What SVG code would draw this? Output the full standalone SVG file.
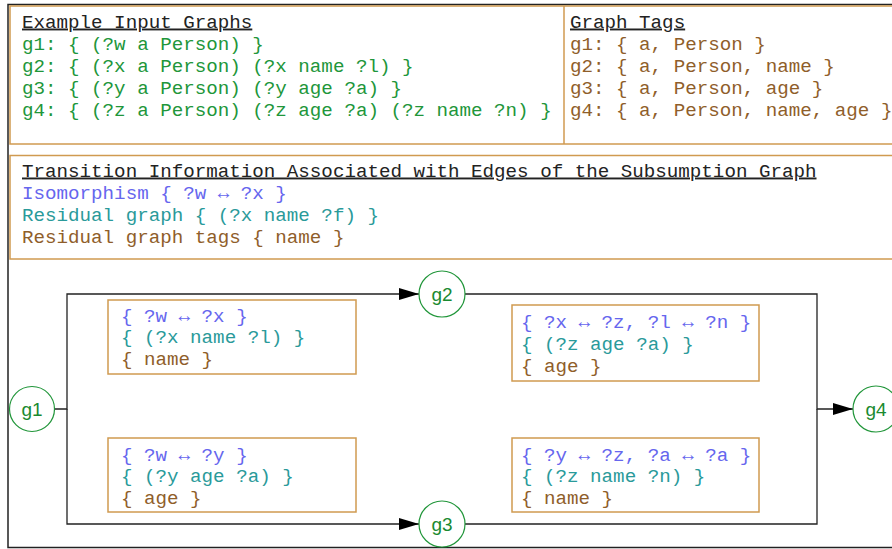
<svg xmlns="http://www.w3.org/2000/svg" width="892" height="549" viewBox="0 0 892 549">
<style>
.m{font-family:"Liberation Mono","DejaVu Sans Mono",monospace;font-size:19.2px}
.t{fill:#222;text-decoration:underline}
.g{fill:#21963a}
.b{fill:#8f5e2a}
.i{fill:#6666ee}
.r{fill:#2a9a9a}
.frame{fill:none;stroke:#d09a50;stroke-width:1.5}
.lbl{fill:#fff;stroke:#d09a50;stroke-width:1.5}
.node circle{fill:#fff;stroke:#21963a;stroke-width:1.2}
.node text{font-family:"Liberation Sans",Arial,sans-serif;font-size:19px;fill:#1a8a30;text-anchor:middle}
.edge{fill:none;stroke:#222;stroke-width:1.3}
</style>
<defs>
<marker id="ah" markerWidth="20" markerHeight="12" refX="20" refY="6" orient="auto" markerUnits="userSpaceOnUse">
<path d="M0,0 L20,6 L0,12 Z" fill="#000"/>
</marker>
</defs>
<rect x="0" y="0" width="892" height="549" fill="#fff"/>
<rect x="8" y="4.5" width="900" height="543" fill="none" stroke="#222" stroke-width="1.5"/>
<g id="inputs">
<rect class="frame" x="10" y="6" width="900" height="138"/>
<line x1="564" y1="6" x2="564" y2="144" stroke="#d09a50" stroke-width="1.5"/>
<text class="m t" x="22" y="27.5">Example Input Graphs</text>
<text class="m g" x="22" y="49.5">g1: { (?w a Person) }</text>
<text class="m g" x="22" y="71.5">g2: { (?x a Person) (?x name ?l) }</text>
<text class="m g" x="22" y="93.5">g3: { (?y a Person) (?y age ?a) }</text>
<text class="m g" x="22" y="115.5">g4: { (?z a Person) (?z age ?a) (?z name ?n) }</text>
<text class="m t" x="570" y="27.5">Graph Tags</text>
<text class="m b" x="570" y="49.5">g1: { a, Person }</text>
<text class="m b" x="570" y="71.5">g2: { a, Person, name }</text>
<text class="m b" x="570" y="93.5">g3: { a, Person, age }</text>
<text class="m b" x="570" y="115.5">g4: { a, Person, name, age }</text>
</g>
<g id="legend">
<rect class="frame" x="10" y="155.5" width="900" height="103.5"/>
<text class="m t" x="22" y="176.5">Transition Information Associated with Edges of the Subsumption Graph</text>
<text class="m i" x="22" y="198.5">Isomorphism { ?w ↔ ?x }</text>
<text class="m r" x="22" y="220.5">Residual graph { (?x name ?f) }</text>
<text class="m b" x="22" y="242.5">Residual graph tags { name }</text>
</g>
<g id="connectors">
<path class="edge" d="M55,409 H67 V294 H419" marker-end="url(#ah)"/>
<path class="edge" d="M67,409 V524 H419" marker-end="url(#ah)" stroke="#555"/>
<path class="edge" d="M465,294 H817 V409 H853" marker-end="url(#ah)"/>
<path class="edge" d="M465,524 H817 V409"/>
</g>
<g id="label-g1-g2">
<rect class="lbl" x="108" y="300" width="248" height="74"/>
<text class="m i" x="121" y="321.5">{ ?w ↔ ?x }</text>
<text class="m r" x="121" y="342.5">{ (?x name ?l) }</text>
<text class="m b" x="121" y="364.5">{ name }</text>
</g>
<g id="label-g2-g4">
<rect class="lbl" x="512" y="305" width="247" height="76"/>
<text class="m i" x="521" y="327.5">{ ?x ↔ ?z, ?l ↔ ?n }</text>
<text class="m r" x="521" y="349.5">{ (?z age ?a) }</text>
<text class="m b" x="521" y="371.5">{ age }</text>
</g>
<g id="label-g1-g3">
<rect class="lbl" x="108" y="438" width="248" height="74"/>
<text class="m i" x="121" y="460.5">{ ?w ↔ ?y }</text>
<text class="m r" x="121" y="481.5">{ (?y age ?a) }</text>
<text class="m b" x="121" y="503.5">{ age }</text>
</g>
<g id="label-g3-g4">
<rect class="lbl" x="512" y="438" width="247" height="74"/>
<text class="m i" x="521" y="460.5">{ ?y ↔ ?z, ?a ↔ ?a }</text>
<text class="m r" x="521" y="481.5">{ (?z name ?n) }</text>
<text class="m b" x="521" y="503.5">{ name }</text>
</g>
<g id="g1" class="node"><circle cx="32" cy="409" r="22.5"/><text x="32" y="415.5">g1</text></g>
<g id="g2" class="node"><circle cx="442" cy="294" r="23"/><text x="442" y="300.5">g2</text></g>
<g id="g3" class="node"><circle cx="442" cy="524" r="23"/><text x="442" y="530.5">g3</text></g>
<g id="g4" class="node"><circle cx="876" cy="409" r="23"/><text x="876" y="415.5">g4</text></g>
</svg>
